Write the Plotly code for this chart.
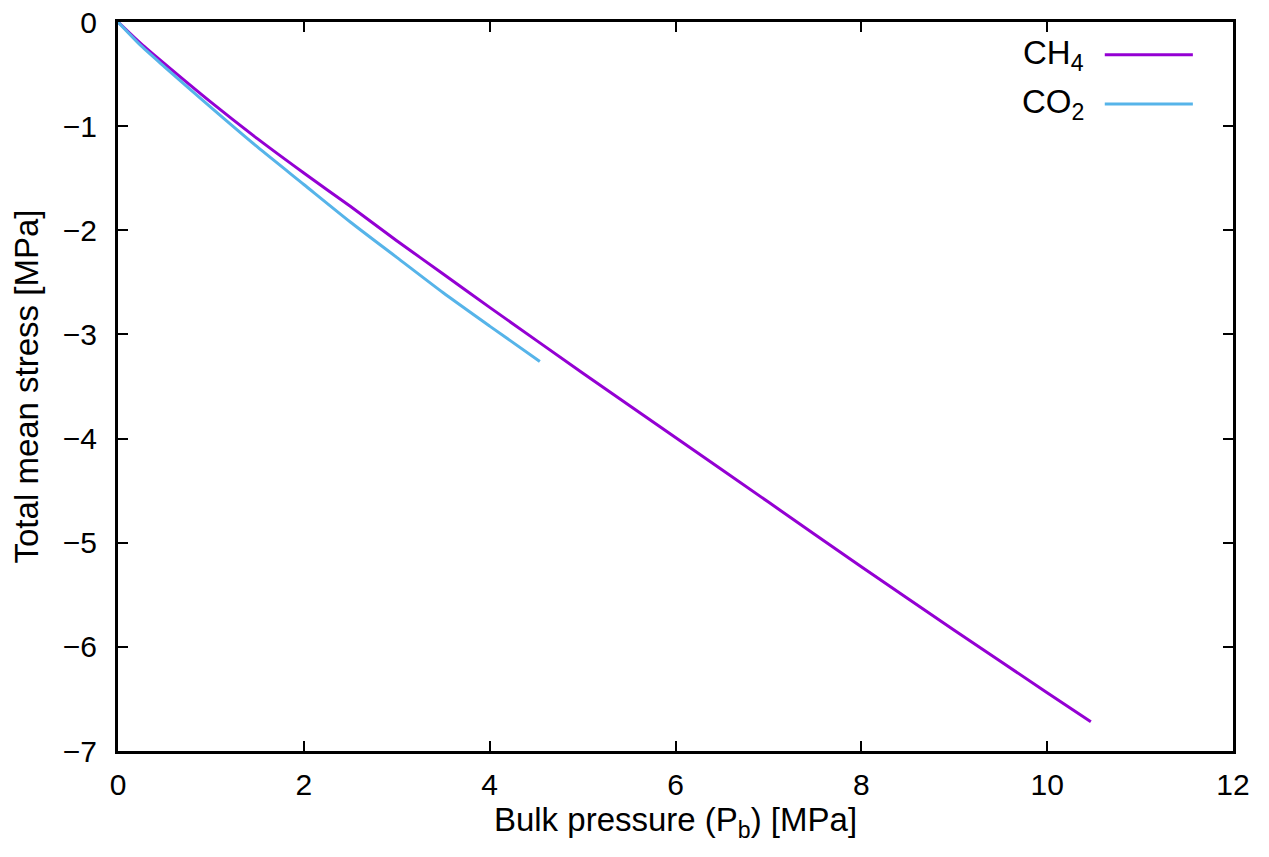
import plotly.graph_objects as go

# Data
ch4_x = [0.0, 0.25, 0.5, 1.0, 1.5, 2.0, 2.5, 3.0, 3.5, 4.0, 5.0, 6.0, 7.0, 8.0, 9.0, 10.0, 10.47]
ch4_y = [0.0, -0.21, -0.40, -0.77, -1.12, -1.45, -1.77, -2.10, -2.42, -2.74, -3.37, -3.99, -4.61, -5.23, -5.84, -6.44, -6.72]
co2_x = [0.0, 0.25, 0.5, 1.0, 1.5, 2.0, 2.5, 3.0, 3.5, 4.0, 4.54]
co2_y = [0.0, -0.23, -0.43, -0.82, -1.20, -1.56, -1.92, -2.26, -2.60, -2.92, -3.26]

series_names = ["CH<sub>4</sub>", "CO<sub>2</sub>"]
series_colors = ["#9400D3", "#56B4E9"]

x_ticks = [0, 2, 4, 6, 8, 10, 12]
y_ticks = [0, -1, -2, -3, -4, -5, -6, -7]

FONT = "Liberation Sans, Arial, Helvetica, sans-serif"
TICK_SIZE = 30
TITLE_SIZE = 33

fig = go.Figure()
for xs, ys, name, col in zip([ch4_x, co2_x], [ch4_y, co2_y], series_names, series_colors):
    fig.add_trace(go.Scatter(x=xs, y=ys, mode="lines", name=name,
                             line=dict(color=col, width=3, shape="spline", smoothing=0.6),
                             showlegend=False))

axis_common = dict(
    showgrid=False, zeroline=False, showline=True, linecolor="black", linewidth=3,
    mirror="ticks", ticks="inside", ticklen=10, tickwidth=1.5, tickcolor="black",
    tickfont=dict(family=FONT, size=TICK_SIZE, color="black"),
    ticklabeloverflow="allow", automargin=False,
)

fig.update_xaxes(range=[0, 12], tickvals=x_ticks,
                 title=dict(text="Bulk pressure (P<sub>b</sub>) [MPa]",
                            font=dict(family=FONT, size=TITLE_SIZE, color="black"), standoff=8),
                 ticklabelstandoff=5,
                 **axis_common)
fig.update_yaxes(range=[-7, 0], tickvals=y_ticks,
                 title=dict(text="Total mean stress [MPa]",
                            font=dict(family=FONT, size=TITLE_SIZE, color="black"), standoff=16),
                 ticklabelstandoff=12,
                 **axis_common)

# Manual gnuplot-style legend (text left of line sample)
legend_y = [0.955, 0.8875]
for name, col, ly in zip(series_names, series_colors, legend_y):
    fig.add_shape(type="line", xref="paper", yref="paper", x0=0.885, x1=0.964,
                  y0=ly, y1=ly, line=dict(color=col, width=3))
    fig.add_annotation(xref="paper", yref="paper", x=0.868, y=ly, text=name,
                       showarrow=False, xanchor="right", yanchor="middle",
                       font=dict(family=FONT, size=TITLE_SIZE, color="black"))

fig.update_layout(
    width=1261, height=849,
    margin=dict(l=110, r=36, t=14, b=106),
    plot_bgcolor="white", paper_bgcolor="white",
    font=dict(family=FONT, size=TICK_SIZE, color="black"),
)

fig.write_html("out.html")
